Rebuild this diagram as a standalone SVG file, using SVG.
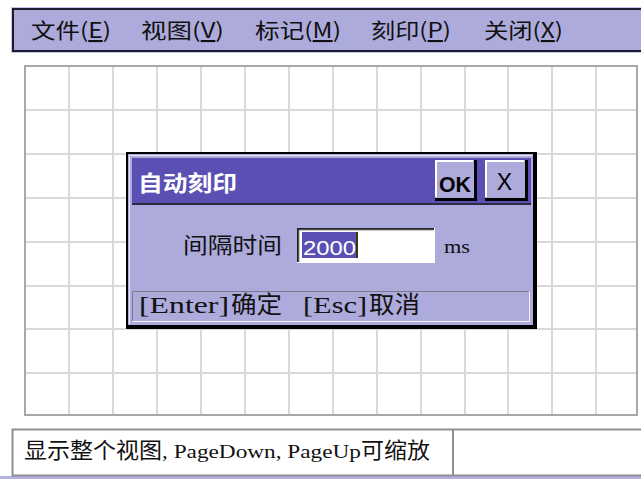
<svg xmlns="http://www.w3.org/2000/svg" width="641" height="479" viewBox="0 0 641 479">
<style>
.cjk{font-family:"Noto Sans CJK SC","Noto Sans",sans-serif;fill:#111;}
.mono{font-family:"Liberation Serif","DejaVu Serif",serif;fill:#111;}
.gl{stroke:#d9d9d9;stroke-width:2;}
.lav{fill:#adaadc;}
</style>
<rect x="0" y="0" width="641" height="479" fill="#fff"/>
<g id="menubar">
<rect x="11" y="7" width="640" height="46" fill="#c8c6ee"/>
<rect x="13" y="9" width="640" height="42" class="lav" stroke="#1c1c2a" stroke-width="2"/>
<g font-size="21" class="cjk">
<text x="31" y="38" textLength="80" lengthAdjust="spacingAndGlyphs">文件(<tspan text-decoration="underline">E</tspan>)</text>
<text x="141" y="38" textLength="83" lengthAdjust="spacingAndGlyphs">视图(<tspan text-decoration="underline">V</tspan>)</text>
<text x="255" y="38" textLength="86" lengthAdjust="spacingAndGlyphs">标记(<tspan text-decoration="underline">M</tspan>)</text>
<text x="371" y="38" textLength="80" lengthAdjust="spacingAndGlyphs">刻印(<tspan text-decoration="underline">P</tspan>)</text>
<text x="484" y="38" textLength="79" lengthAdjust="spacingAndGlyphs">关闭(<tspan text-decoration="underline">X</tspan>)</text>
</g>
</g>
<g id="grid">
<g class="gl">
<line x1="69" y1="66" x2="69" y2="415"/><line x1="113" y1="66" x2="113" y2="415"/>
<line x1="157" y1="66" x2="157" y2="415"/><line x1="201" y1="66" x2="201" y2="415"/>
<line x1="245" y1="66" x2="245" y2="415"/><line x1="289" y1="66" x2="289" y2="415"/>
<line x1="333" y1="66" x2="333" y2="415"/><line x1="377" y1="66" x2="377" y2="415"/>
<line x1="421" y1="66" x2="421" y2="415"/><line x1="465" y1="66" x2="465" y2="415"/>
<line x1="508" y1="66" x2="508" y2="415"/><line x1="552" y1="66" x2="552" y2="415"/>
<line x1="596" y1="66" x2="596" y2="415"/>
<line x1="25" y1="110" x2="637" y2="110"/><line x1="25" y1="154" x2="637" y2="154"/>
<line x1="25" y1="198" x2="637" y2="198"/><line x1="25" y1="242" x2="637" y2="242"/>
<line x1="25" y1="286" x2="637" y2="286"/><line x1="25" y1="329" x2="637" y2="329"/>
<line x1="25" y1="373" x2="637" y2="373"/>
</g>
<rect x="25" y="66" width="612" height="349" fill="none" stroke="#a8a8a8" stroke-width="2"/>
</g>
<g id="dialog">
<rect x="126" y="152" width="411" height="177" fill="#000"/>
<rect x="128" y="154" width="405" height="171" class="lav"/>
<path d="M129.5 324V155.5H532" fill="none" stroke="#e8e8f8" stroke-width="1"/>
<rect x="132" y="158" width="399" height="45" fill="#5b4fb4"/>
<line x1="132" y1="204" x2="531" y2="204" stroke="#2a2a40" stroke-width="2"/>
<text x="138" y="191" font-size="22" font-weight="bold" class="cjk" style="fill:#fff" textLength="99" lengthAdjust="spacingAndGlyphs">自动刻印</text>
<g id="btn-ok">
<rect x="435" y="160" width="42" height="41" fill="#000"/>
<rect x="435" y="160" width="39" height="38" class="lav"/>
<path d="M436 197V161H473" fill="none" stroke="#fff" stroke-width="2"/>
<text x="455" y="192" font-size="22" font-weight="bold" text-anchor="middle" font-family="Liberation Sans, Arial, sans-serif" fill="#000" textLength="32" lengthAdjust="spacingAndGlyphs">OK</text>
</g>
<g id="btn-close">
<rect x="485" y="160" width="43" height="41" fill="#000"/>
<rect x="485" y="160" width="40" height="38" class="lav"/>
<path d="M486 197V161H524" fill="none" stroke="#fff" stroke-width="2"/>
<text x="504.5" y="190" font-size="23" text-anchor="middle" font-family="Liberation Sans, Arial, sans-serif" fill="#000">X</text>
</g>
<text x="183" y="253" font-size="22" class="cjk" textLength="99" lengthAdjust="spacingAndGlyphs">间隔时间</text>
<g id="input">
<rect x="297" y="228" width="138" height="35" fill="#fff"/>
<path d="M298 262V229H434" fill="none" stroke="#222" stroke-width="2"/>
<path d="M299 262V230H433" fill="none" stroke="#888" stroke-width="1"/>
<rect x="302" y="232" width="54" height="26" fill="#5b4fb4"/>
<text x="303" y="255" font-size="20" font-family="Liberation Sans, Arial, sans-serif" fill="#fff" textLength="53" lengthAdjust="spacingAndGlyphs">2000</text>
<rect x="356" y="232" width="2" height="26" fill="#3a3a10"/>
</g>
<text x="444" y="253" font-size="19" class="mono" textLength="26" lengthAdjust="spacingAndGlyphs">ms</text>
<g id="footer">
<rect x="132" y="291" width="397" height="30" class="lav"/>
<path d="M132.5 320.5V291.5H528.5" fill="none" stroke="#7a7a8a" stroke-width="1"/>
<path d="M132.5 321.5H529.5V291.5" fill="none" stroke="#f0f0ff" stroke-width="1"/>
<text x="139" y="313" font-size="23" class="mono" textLength="90" lengthAdjust="spacingAndGlyphs">[Enter]</text>
<text x="231" y="313" font-size="24" class="cjk" textLength="51" lengthAdjust="spacingAndGlyphs">确定</text>
<text x="303" y="313" font-size="23" class="mono" textLength="64" lengthAdjust="spacingAndGlyphs">[Esc]</text>
<text x="369" y="313" font-size="24" class="cjk" textLength="51" lengthAdjust="spacingAndGlyphs">取消</text>
</g>
</g>
<g id="statusbar">
<rect x="0" y="476" width="641" height="3" fill="#b4b2e4"/>
<rect x="12.5" y="429.5" width="640" height="46" fill="#fff" stroke="#8f8f8f" stroke-width="2"/>
<line x1="453" y1="430" x2="453" y2="475" stroke="#8f8f8f" stroke-width="2"/>
<text x="24" y="458" font-size="22" class="cjk" textLength="138" lengthAdjust="spacingAndGlyphs">显示整个视图</text>
<text x="162" y="458" font-size="19" class="mono" textLength="199" lengthAdjust="spacingAndGlyphs">, PageDown, PageUp</text>
<text x="361" y="458" font-size="22" class="cjk" textLength="69" lengthAdjust="spacingAndGlyphs">可缩放</text>
</g>
</svg>
